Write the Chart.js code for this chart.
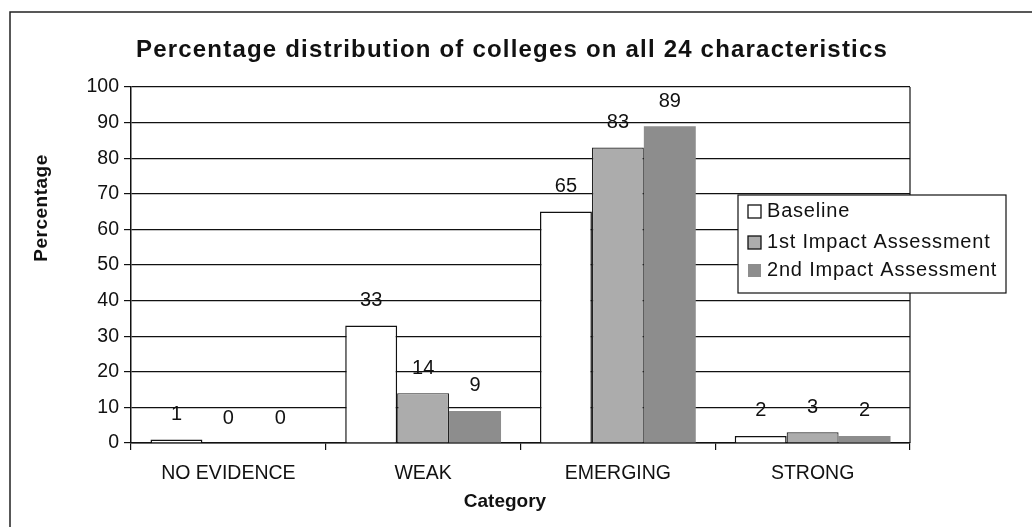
<!DOCTYPE html>
<html>
<head>
<meta charset="utf-8">
<script src="https://cdn.jsdelivr.net/npm/chart.js@4/dist/chart.umd.min.js"></script>
<style>
  html, body { margin: 0; padding: 0; background: #fff; }
  #wrap { width: 1032px; height: 527px; position: relative; }
</style>
</head>
<body>
<div id="wrap"><canvas id="c" width="1032" height="527"></canvas></div>
<script>
const categories = ["NO EVIDENCE", "WEAK", "EMERGING", "STRONG"];
const seriesNames = ["Baseline", "1st Impact Assessment", "2nd Impact Assessment"];
const baseline = [1, 33, 65, 2];
const firstImpact = [0, 14, 83, 3];
const secondImpact = [0, 9, 89, 2];
const yTicks = [0, 10, 20, 30, 40, 50, 60, 70, 80, 90, 100];
const chartTitle = "Percentage distribution of colleges on all 24 characteristics";
const yTitle = "Percentage";
const xTitle = "Category";

const FONT = "'Liberation Sans', Arial, sans-serif";
const fills = ["#ffffff", "#acacac", "#8d8d8d"];
const borders = ["#111111", "#222222", "#8d8d8d"];
const bw = [1.5, 1.2, 0];

const framePlugin = {
  id: 'frame',
  beforeDraw(chart) {
    const ctx = chart.ctx;
    ctx.save();
    ctx.fillStyle = '#fff';
    ctx.fillRect(0, 0, chart.width, chart.height);
    ctx.strokeStyle = '#222';
    ctx.lineWidth = 1.5;
    ctx.beginPath();
    ctx.moveTo(10, 527);
    ctx.lineTo(10, 12);
    ctx.lineTo(1032, 12);
    ctx.stroke();
    ctx.restore();
  },
  afterDraw(chart) {
    const ctx = chart.ctx;
    const a = chart.chartArea;
    ctx.save();
    ctx.strokeStyle = '#111';
    ctx.lineWidth = 1.2;
    ctx.beginPath();
    ctx.moveTo(a.right, a.top);
    ctx.lineTo(a.right, a.bottom);
    ctx.stroke();

    // titles
    ctx.fillStyle = '#111';
    ctx.textBaseline = 'alphabetic';
    ctx.textAlign = 'center';
    ctx.font = "bold 24px " + FONT;
    ctx.letterSpacing = '1.2px';
    ctx.fillText(chartTitle, 512, 57);

    ctx.letterSpacing = '0px';
    ctx.font = "bold 19px " + FONT;
    ctx.textBaseline = 'middle';
    ctx.fillText(xTitle, 505, 502);

    ctx.save();
    ctx.translate(42, 208);
    ctx.rotate(-Math.PI / 2);
    ctx.letterSpacing = '0.5px';
    ctx.fillText(yTitle, 0, 0);
    ctx.restore();

    // legend box
    const lx = 738, ly = 195, lw = 268, lh = 98;
    ctx.fillStyle = '#fff';
    ctx.fillRect(lx, ly, lw, lh);
    ctx.strokeStyle = '#111';
    ctx.lineWidth = 1.2;
    ctx.strokeRect(lx, ly, lw, lh);
    ctx.font = "20px " + FONT;
    ctx.letterSpacing = '0.8px';
    ctx.textBaseline = 'middle';
    ctx.textAlign = 'left';
    const rows = [211, 242, 270];
    chart.data.datasets.forEach((ds, i) => {
      const y = rows[i];
      ctx.fillStyle = fills[i];
      ctx.fillRect(748, y - 6, 13, 13);
      if (i < 2) {
        ctx.strokeStyle = '#111';
        ctx.lineWidth = 1.3;
        ctx.strokeRect(748, y - 6, 13, 13);
      }
      ctx.fillStyle = '#111';
      ctx.fillText(ds.label, 767, y);
    });
    ctx.restore();
  }
};

const labelPlugin = {
  id: 'vals',
  afterDatasetsDraw(chart) {
    const ctx = chart.ctx;
    ctx.save();
    ctx.font = "20px " + FONT;
    ctx.fillStyle = '#111';
    ctx.textAlign = 'center';
    ctx.textBaseline = 'middle';
    chart.data.datasets.forEach((ds, i) => {
      const meta = chart.getDatasetMeta(i);
      meta.data.forEach((bar, j) => {
        ctx.fillText(String(ds.data[j]), bar.x, bar.y - 25);
      });
    });
    ctx.restore();
  }
};

const seriesData = [baseline, firstImpact, secondImpact];

new Chart(document.getElementById('c'), {
  type: 'bar',
  data: {
    labels: categories,
    datasets: seriesNames.map((name, i) => ({
      label: name,
      data: seriesData[i],
      backgroundColor: fills[i],
      borderColor: borders[i],
      borderWidth: bw[i],
      borderSkipped: 'bottom',
      categoryPercentage: 0.8,
      barPercentage: 1.0
    }))
  },
  options: {
    responsive: false,
    animation: false,
    devicePixelRatio: 1,
    layout: { padding: { left: 14, right: 122, top: 87, bottom: 0 } },
    plugins: {
      legend: { display: false },
      tooltip: { enabled: false },
      title: { display: false }
    },
    scales: {
      x: {
        grid: { display: true, drawOnChartArea: false, drawTicks: true, tickLength: 7, color: '#111', lineWidth: 1.2 },
        border: { display: true, color: '#111', width: 1.5 },
        ticks: { color: '#111', font: { family: FONT, size: 19.5 }, padding: 12 },
        title: { display: false },
        afterFit(s) { s.height = 84; }
      },
      y: {
        min: 0, max: 100,
        afterBuildTicks(s) { s.ticks = yTicks.map(v => ({ value: v })); },
        grid: { color: '#111', lineWidth: 1.2, tickLength: 7, drawTicks: true },
        border: { display: true, color: '#111', width: 1.5 },
        ticks: { color: '#111', font: { family: FONT, size: 19.5 }, padding: 5 },
        title: { display: false },
        afterFit(s) { s.width = 117; }
      }
    }
  },
  plugins: [framePlugin, labelPlugin]
});
</script>
</body>
</html>
